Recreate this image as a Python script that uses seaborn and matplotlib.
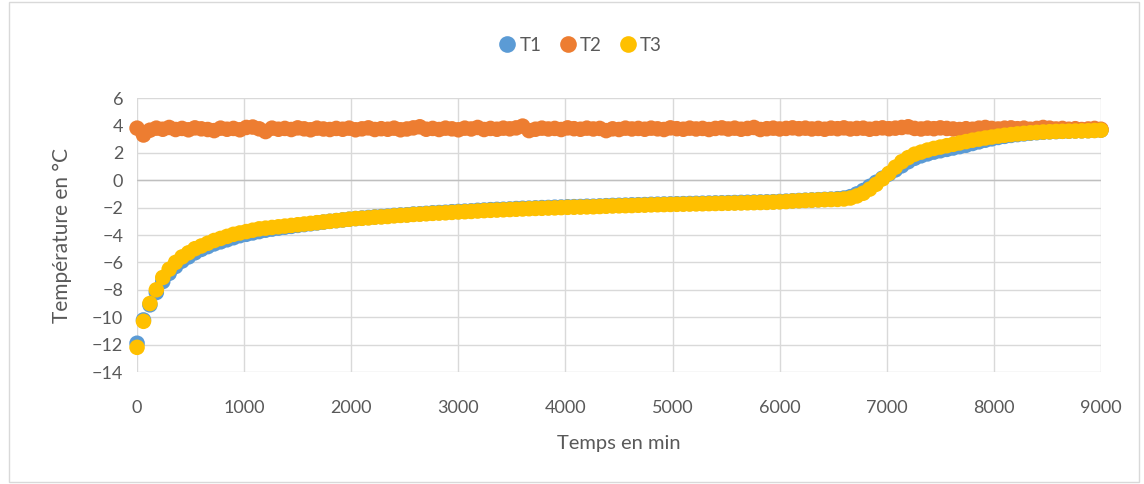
import matplotlib
matplotlib.use("Agg")
import matplotlib.pyplot as plt
import seaborn as sns
import pandas as pd
from matplotlib.patches import Rectangle

temps_min = [
    0, 60, 120, 180, 240, 300, 360, 420, 480, 540,
    600, 660, 720, 780, 840, 900, 960, 1020, 1080, 1140,
    1200, 1260, 1320, 1380, 1440, 1500, 1560, 1620, 1680, 1740,
    1800, 1860, 1920, 1980, 2040, 2100, 2160, 2220, 2280, 2340,
    2400, 2460, 2520, 2580, 2640, 2700, 2760, 2820, 2880, 2940,
    3000, 3060, 3120, 3180, 3240, 3300, 3360, 3420, 3480, 3540,
    3600, 3660, 3720, 3780, 3840, 3900, 3960, 4020, 4080, 4140,
    4200, 4260, 4320, 4380, 4440, 4500, 4560, 4620, 4680, 4740,
    4800, 4860, 4920, 4980, 5040, 5100, 5160, 5220, 5280, 5340,
    5400, 5460, 5520, 5580, 5640, 5700, 5760, 5820, 5880, 5940,
    6000, 6060, 6120, 6180, 6240, 6300, 6360, 6420, 6480, 6540,
    6600, 6660, 6720, 6780, 6840, 6900, 6960, 7020, 7080, 7140,
    7200, 7260, 7320, 7380, 7440, 7500, 7560, 7620, 7680, 7740,
    7800, 7860, 7920, 7980, 8040, 8100, 8160, 8220, 8280, 8340,
    8400, 8460, 8520, 8580, 8640, 8700, 8760, 8820, 8880, 8940,
    9000,
]

T1 = [
    -11.9, -10.2, -9.1, -8.2, -7.4, -6.8, -6.3, -5.9, -5.6, -5.3,
    -5.05, -4.85, -4.65, -4.5, -4.35, -4.2, -4.05, -3.95, -3.85, -3.75,
    -3.65, -3.57, -3.5, -3.43, -3.37, -3.3, -3.24, -3.18, -3.12, -3.06,
    -3.0, -2.95, -2.9, -2.85, -2.8, -2.76, -2.72, -2.68, -2.65, -2.62,
    -2.57, -2.54, -2.52, -2.47, -2.45, -2.42, -2.38, -2.36, -2.34, -2.3,
    -2.28, -2.26, -2.24, -2.2, -2.18, -2.15, -2.13, -2.12, -2.1, -2.07,
    -2.05, -2.04, -2.02, -2.0, -1.99, -1.97, -1.96, -1.94, -1.93, -1.92,
    -1.9, -1.9, -1.88, -1.86, -1.84, -1.83, -1.82, -1.8, -1.79, -1.78,
    -1.76, -1.75, -1.74, -1.73, -1.72, -1.71, -1.7, -1.69, -1.68, -1.67,
    -1.66, -1.65, -1.64, -1.63, -1.62, -1.61, -1.6, -1.59, -1.58, -1.57,
    -1.55, -1.53, -1.5, -1.48, -1.46, -1.44, -1.42, -1.4, -1.38, -1.35,
    -1.3, -1.2, -1.0, -0.75, -0.45, -0.15, 0.15, 0.45, 0.75, 1.05,
    1.35, 1.6, 1.78, 1.92, 2.05, 2.15, 2.25, 2.35, 2.45, 2.55,
    2.68, 2.8, 2.92, 3.02, 3.12, 3.2, 3.27, 3.33, 3.38, 3.43,
    3.47, 3.5, 3.53, 3.55, 3.57, 3.58, 3.6, 3.61, 3.62, 3.64,
    3.66,
]

T2 = [
    3.80, 3.30, 3.65, 3.80, 3.72, 3.85, 3.70, 3.78, 3.68, 3.82,
    3.75, 3.70, 3.62, 3.80, 3.72, 3.78, 3.68, 3.85, 3.88, 3.75,
    3.55, 3.80, 3.72, 3.78, 3.70, 3.82, 3.75, 3.68, 3.80, 3.74,
    3.70, 3.78, 3.72, 3.80, 3.68, 3.75, 3.82, 3.70, 3.76, 3.72,
    3.80, 3.68, 3.74, 3.82, 3.90, 3.72, 3.78, 3.70, 3.80, 3.75,
    3.68, 3.80, 3.74, 3.85, 3.70, 3.78, 3.72, 3.80, 3.75, 3.82,
    3.95, 3.62, 3.72, 3.80, 3.74, 3.78, 3.70, 3.82, 3.76, 3.72,
    3.80, 3.74, 3.78, 3.62, 3.75, 3.70, 3.80, 3.74, 3.78, 3.72,
    3.80, 3.75, 3.70, 3.82, 3.76, 3.72, 3.80, 3.74, 3.78, 3.70,
    3.78, 3.82, 3.74, 3.80, 3.72, 3.78, 3.85, 3.70, 3.76, 3.80,
    3.74, 3.78, 3.82, 3.76, 3.80, 3.74, 3.78, 3.72, 3.80, 3.76,
    3.82, 3.74, 3.78, 3.80, 3.72, 3.78, 3.82, 3.76, 3.80, 3.85,
    3.90, 3.78, 3.74, 3.80, 3.76, 3.82, 3.78, 3.74, 3.70, 3.76,
    3.72, 3.80, 3.85, 3.78, 3.74, 3.80, 3.82, 3.76, 3.80, 3.72,
    3.78, 3.85, 3.80, 3.74, 3.78, 3.72, 3.76, 3.70, 3.74, 3.78,
    3.72,
]

T3 = [
    -12.2, -10.3, -9.0, -8.0, -7.1, -6.5, -6.0, -5.6, -5.3, -5.0,
    -4.8, -4.6, -4.4, -4.25, -4.1, -3.95, -3.85, -3.75, -3.65, -3.55,
    -3.5, -3.45, -3.4, -3.35, -3.3, -3.25, -3.2, -3.15, -3.1, -3.05,
    -3.0, -2.95, -2.9, -2.85, -2.8, -2.78, -2.75, -2.7, -2.68, -2.65,
    -2.6, -2.57, -2.55, -2.5, -2.48, -2.45, -2.42, -2.4, -2.38, -2.35,
    -2.32, -2.3, -2.28, -2.25, -2.22, -2.2, -2.18, -2.16, -2.14, -2.12,
    -2.1, -2.08, -2.06, -2.05, -2.03, -2.02, -2.0, -1.98, -1.97, -1.96,
    -1.95, -1.94, -1.92, -1.9, -1.88, -1.87, -1.86, -1.85, -1.83, -1.82,
    -1.8, -1.79, -1.78, -1.77, -1.76, -1.75, -1.74, -1.73, -1.72, -1.71,
    -1.7, -1.69, -1.68, -1.67, -1.66, -1.65, -1.64, -1.63, -1.62, -1.6,
    -1.58, -1.56, -1.52, -1.5, -1.48, -1.46, -1.44, -1.42, -1.41, -1.4,
    -1.37, -1.3, -1.15, -0.95, -0.65, -0.3, 0.1, 0.5, 0.95, 1.35,
    1.65, 1.9, 2.05, 2.2, 2.32, 2.42, 2.52, 2.62, 2.72, 2.82,
    2.92, 3.0, 3.08, 3.15, 3.22, 3.28, 3.33, 3.38, 3.42, 3.46,
    3.49, 3.52, 3.54, 3.56, 3.57, 3.58, 3.59, 3.6, 3.61, 3.63,
    3.65,
]

series_names = ["T1", "T2", "T3"]
series_colors = ["#5B9BD5", "#ED7D31", "#FFC000"]
x_ticks = [0, 1000, 2000, 3000, 4000, 5000, 6000, 7000, 8000, 9000]
y_ticks = [-14, -12, -10, -8, -6, -4, -2, 0, 2, 4, 6]

df = pd.concat([
    pd.DataFrame({"Temps": temps_min, "Temp": vals, "Série": name})
    for name, vals in zip(series_names, [T1, T2, T3])
], ignore_index=True)

sns.set_theme(style="white")
plt.rcParams["font.family"] = ["Lato", "DejaVu Sans"]

fig = plt.figure(figsize=(11.44, 4.84), dpi=100)
ax = fig.add_axes([0.1198, 0.2314, 0.8426, 0.5661])

sns.scatterplot(data=df, x="Temps", y="Temp", hue="Série",
                palette=dict(zip(series_names, series_colors)),
                s=125, linewidth=0, ax=ax, legend=True, zorder=3,
                clip_on=False)

ax.set_xlim(0, 9000)
ax.set_ylim(-14, 6)
ax.set_xticks(x_ticks)
ax.set_yticks(y_ticks)
ax.grid(True, color="#D9D9D9", linewidth=1.0)
ax.set_axisbelow(True)
for s in ax.spines.values():
    s.set_visible(False)
ax.axhline(0, color="#BFBFBF", linewidth=1.0, zorder=1)
ax.tick_params(axis="both", length=0, labelsize=13, labelcolor="#595959")
ax.tick_params(axis="x", pad=20)
ax.tick_params(axis="y", pad=10)
ax.set_xlabel("Temps en min", fontsize=14.5, color="#595959", labelpad=14)
ax.set_ylabel("Température en °C", fontsize=15, color="#595959", labelpad=14)

handles, labels = ax.get_legend_handles_labels()
ax.legend_.remove()
for h in handles:
    h.set_markersize(12)
fig.legend(handles, labels, loc="center", bbox_to_anchor=(0.507, 0.907),
           ncol=3, frameon=False, fontsize=13.5, handletextpad=0.15,
           handlelength=1.0, columnspacing=0.9, labelcolor="#595959")

fig.patches.append(Rectangle((0.008, 0.004), 0.988, 0.992, transform=fig.transFigure,
                             fill=False, edgecolor="#D9D9D9", linewidth=1.0))

fig.savefig("out.png", dpi=100)
